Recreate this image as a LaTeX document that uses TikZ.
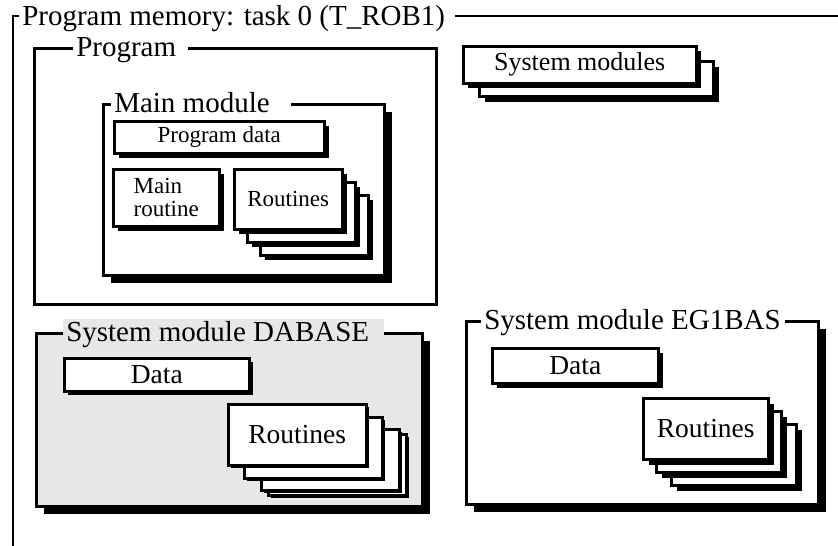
\documentclass[tikz,border=0pt]{standalone}
\usepackage{fontspec}
\setmainfont{Liberation Serif}
\usetikzlibrary{shadows}
\definecolor{dbgray}{RGB}{230,231,232}
\newcommand{\bigsize}{\fontsize{29}{31}\selectfont}
\newcommand{\midsize}{\fontsize{27.5}{29}\selectfont}
\newcommand{\modsize}{\fontsize{26}{28}\selectfont}
\newcommand{\smallsize}{\fontsize{23}{23}\selectfont}

\begin{document}
\begin{tikzpicture}
  [x=1pt,y=-1pt,line width=2.5pt,
   every node/.style={inner sep=0pt,anchor=north west},
   frame/.style={draw,fill=white,line width=2.5pt},
   shadowed/.style={drop shadow={opacity=1,fill=black,shadow xshift=#1,shadow yshift=-#1}},
   title/.style={fill=white,inner xsep=3pt,inner ysep=2pt,anchor=base west,font=\bigsize}]
  \useasboundingbox (0,0) rectangle (838,546);

  \draw (13,546) -- (13,16) -- (838,16);
  \node[title] (mem) at (18,25.5) {Program memory: task 0 (T\_ROB1)\hspace*{7pt}};

  \node[frame,minimum width=402pt,minimum height=256pt] (prog) at (33,47) {};
  \node[title] (progt) at (72,56.5) {Program\hspace*{9pt}};

  \node[frame,shadowed=8pt,minimum width=281pt,minimum height=171pt] (mainmod) at (102,103) {};
  \node[title] (mainmodt) at (110,112.5) {Main module\hspace*{18pt}};
  \node[frame,shadowed=5pt,minimum width=210pt,minimum height=32pt,font=\smallsize] (pdata) at (113,120) {Program data};
  \node[frame,shadowed=5pt,minimum width=106pt,minimum height=57pt,font=\smallsize,align=left] (mroutine) at (112,168) {Main\\routine};
\foreach \d/\n in {26/3,13/2}
    \node[frame,shadowed=5pt,minimum width=108pt,minimum height=60pt] (mrt\n) at (233+\d,168+\d) {};
  \node[frame,shadowed=5pt,minimum width=108pt,minimum height=60pt,font=\smallsize] (mrt1) at (233,168) {Routines};

  \node[frame,shadowed=6pt,minimum width=234pt,minimum height=35pt] (sysm2) at (478,60) {};
  \node[frame,shadowed=5pt,minimum width=233pt,minimum height=37pt,font=\modsize] (sysm1) at (462,45) {System modules};

  \node[frame,fill=dbgray,shadowed=8pt,minimum width=386pt,minimum height=173pt] (dabase) at (35,332) {};
  \node[title,fill=dbgray] (dabaset) at (62,341.5) {System module DABASE\hspace*{12pt}};
  \node[frame,shadowed=4pt,minimum width=185pt,minimum height=33pt,font=\midsize] (dbdata) at (63,357) {Data};
\foreach \dx/\dy/\n in {40/30/4,33/25/3,16/13/2}
    \node[frame,shadowed=3pt,minimum width=138pt,minimum height=61pt] (dbrt\n) at (227+\dx,403+\dy) {};
  \node[frame,shadowed=3pt,minimum width=138pt,minimum height=61pt,font=\midsize] (dbrt1) at (227,403) {Routines};

  \node[frame,shadowed=8pt,minimum width=352pt,minimum height=183pt] (eg1bas) at (465,320) {};
  \node[title] (eg1bast) at (480,329.5) {System module EG1BAS\hspace*{1pt}};
  \node[frame,shadowed=5pt,minimum width=166pt,minimum height=35pt,font=\midsize] (egdata) at (491,347) {Data};
\foreach \dx/\dy/\n in {28/26/3,13/13/2}
    \node[frame,shadowed=6pt,minimum width=125pt,minimum height=61pt] (egrt\n) at (642+\dx,397+\dy) {};
  \node[frame,shadowed=6pt,minimum width=125pt,minimum height=61pt,font=\midsize] (egrt1) at (642,397) {Routines};

\end{tikzpicture}
\end{document}
